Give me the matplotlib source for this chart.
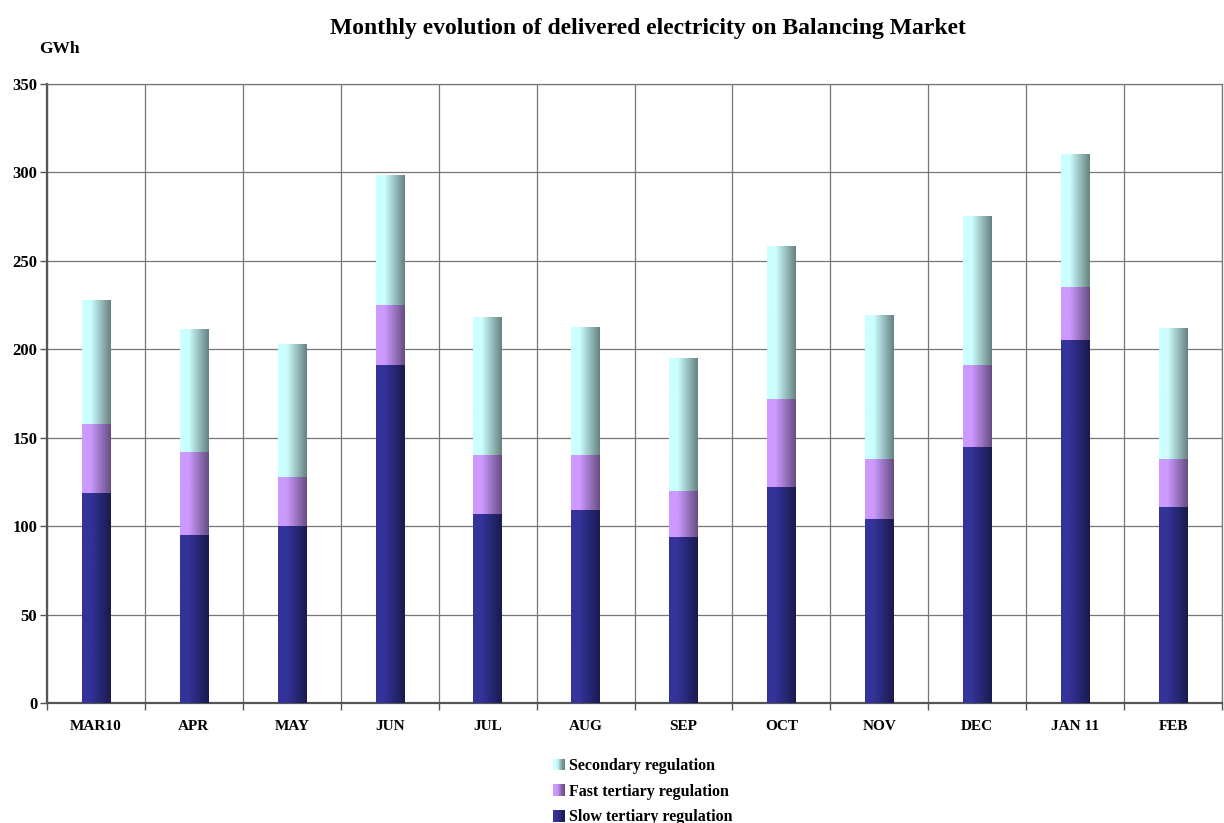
import matplotlib
matplotlib.use("Agg")
import matplotlib.pyplot as plt
import numpy as np
from matplotlib.colors import LinearSegmentedColormap
from matplotlib.patches import Patch, Rectangle
from matplotlib.legend_handler import HandlerBase

# data (GWh)
months = ["MAR10", "APR", "MAY", "JUN", "JUL", "AUG", "SEP", "OCT", "NOV", "DEC", "JAN 11", "FEB"]
slow = [119, 95, 100, 191, 107, 109, 94, 122, 104, 145, 205, 111]
fast = [39, 47, 28, 34, 33, 31, 26, 50, 34, 46, 30, 27]
secondary = [70, 69, 75, 73, 78, 72, 75, 86, 81, 84, 75, 74]

series_names = ["Slow tertiary regulation", "Fast tertiary regulation", "Secondary regulation"]
light = ["#333399", "#cc99ff", "#ccffff"]
dark = ["#1a1a4d", "#664d80", "#668080"]
cmaps = [LinearSegmentedColormap.from_list("g%d" % i, [(0, light[i]), (0.3, light[i]), (1, dark[i])])
         for i in range(3)]

plt.rcParams['font.family'] = ['Liberation Serif', 'DejaVu Serif']
plt.rcParams['font.weight'] = 'bold'


class GradHandler(HandlerBase):
    # little gradient square for the legend, like the bars
    def create_artists(self, legend, orig_handle, xdescent, ydescent, width, height, fontsize, trans):
        cm = orig_handle.cmap
        n = 10
        arts = []
        for k in range(n):
            r = Rectangle((-xdescent + width * k / n, -ydescent), width / n + 0.2, height,
                          facecolor=cm(k / (n - 1)), edgecolor='none', transform=trans)
            arts.append(r)
        return arts


fig = plt.figure(figsize=(12.24, 8.23), dpi=100)
ax = fig.add_axes([0.0384, 0.1458, 0.96, 0.7522])

x = np.arange(len(months))
w = 0.29
grad = np.linspace(0, 1, 256).reshape(1, -1)

bottom = np.zeros(len(months))
for vals, cmap in zip([slow, fast, secondary], cmaps):
    for xi, b, v in zip(x, bottom, vals):
        ax.imshow(grad, extent=[xi - w / 2, xi + w / 2, b, b + v], aspect='auto',
                  cmap=cmap, interpolation='bilinear', zorder=3)
    bottom += np.array(vals)

ax.set_xlim(-0.5, len(months) - 0.5)
ax.set_ylim(0, 350)
ax.set_yticks(np.arange(0, 351, 50))
ax.set_xticks(x)
ax.set_xticklabels(months, fontsize=11, fontweight='bold')
ax.tick_params(axis='x', length=0, pad=12)
ax.tick_params(axis='y', labelsize=12, length=5, width=1, color='#555555', pad=2)

# category boundary ticks / vertical grid
ax.set_xticks(np.arange(-0.5, len(months), 1), minor=True)
ax.tick_params(axis='x', which='minor', length=5, width=1, color='#555555')
ax.grid(True, which='minor', axis='x', color='#777777', linewidth=0.9, zorder=1)
ax.grid(True, which='major', axis='y', color='#777777', linewidth=0.9, zorder=1)
ax.set_axisbelow(True)

for s in ['top', 'right']:
    ax.spines[s].set_color('#777777')
    ax.spines[s].set_linewidth(0.9)
for s in ['left', 'bottom']:
    ax.spines[s].set_color('#555555')
    ax.spines[s].set_linewidth(1.6)

fig.text(0.529, 0.965, "Monthly evolution of delivered electricity on Balancing Market",
         ha='center', va='center', fontsize=17, fontweight='bold')
fig.text(0.032, 0.941, "GWh", ha='left', va='center', fontsize=12.5, fontweight='bold')

handles = [Patch(facecolor=light[i], edgecolor='none') for i in [2, 1, 0]]
for h, i in zip(handles, [2, 1, 0]):
    h.cmap = cmaps[i]
labels = [series_names[i] for i in [2, 1, 0]]
fig.legend(handles, labels, loc='center', bbox_to_anchor=(0.525, 0.038), frameon=False,
           fontsize=11.5, handlelength=0.75, handleheight=0.75, handletextpad=0.25, labelspacing=0.6,
           handler_map={Patch: GradHandler()})

fig.savefig("out.png", dpi=100)
